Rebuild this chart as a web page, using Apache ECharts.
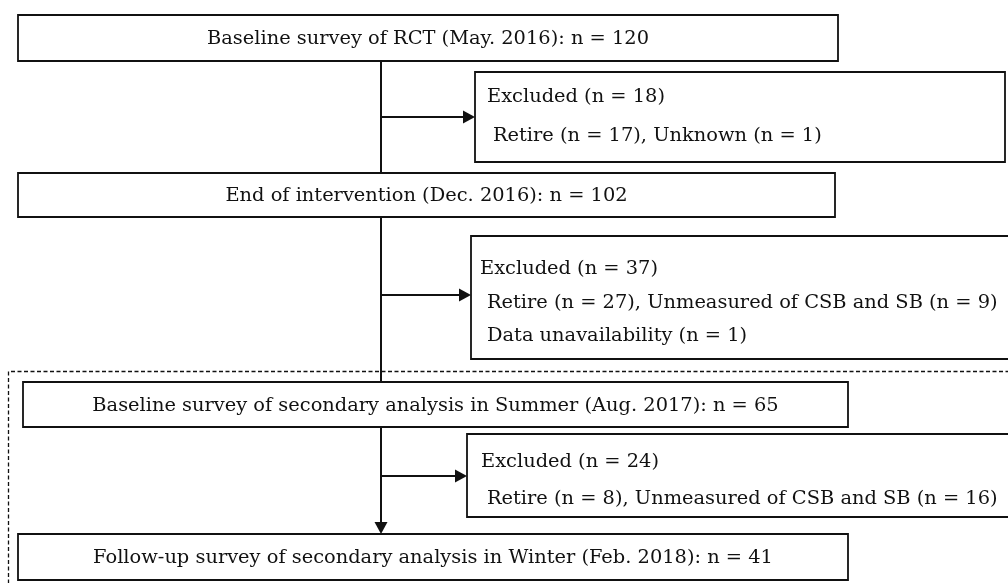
<!DOCTYPE html>
<html><head><meta charset="utf-8">
<script src="https://cdn.jsdelivr.net/npm/echarts@6/dist/echarts.min.js"></script>
<style>html,body{margin:0;padding:0;background:#fff}#c{width:1008px;height:583px}</style>
</head><body><div id="c"></div>
<script>
// ---- Data (content) ----
const stageLabels = [
  'Baseline survey of RCT (May. 2016)',
  'End of intervention (Dec. 2016)',
  'Baseline survey of secondary analysis in Summer (Aug. 2017)',
  'Follow-up survey of secondary analysis in Winter (Feb. 2018)'
];
const stageN = [120, 102, 65, 41];
const excludedN = [18, 37, 24];
const exclusionReasonLines = [
  [[['Retire', 17], ['Unknown', 1]]],
  [[['Retire', 27], ['Unmeasured of CSB and SB', 9]], [['Data unavailability', 1]]],
  [[['Retire', 8], ['Unmeasured of CSB and SB', 16]]]
];

// ---- Layout (drawing space in axis units) ----
const stageBoxes = [[18, 15, 838, 61], [18, 173, 835, 217], [23, 382, 848, 427], [18, 534, 848, 580]];
const exclBoxes = [[475, 72, 1005, 162], [471, 236, 1014, 359], [467, 434, 1014, 517]];
const exclLineY = [[97, 136], [269, 303, 336], [462, 499]];
const exclLineX = [[487, 493], [480, 487, 487], [481, 487]];
const flowX = 381;
const branchY = [117, 295, 476];
const connectors = [
  // x0, y0, x1, y1, arrow(1/0)
  [flowX, 61, flowX, 173, 0],
  [flowX, branchY[0], 475, branchY[0], 1],
  [flowX, 217, flowX, 382, 0],
  [flowX, branchY[1], 471, branchY[1], 1],
  [flowX, 427, flowX, 534, 1],
  [flowX, branchY[2], 467, branchY[2], 1]
];
const dashedFrame = [[8.5, 590], [8.5, 371.5], [1012, 371.5]];

const FONT = '19.4px "DejaVu Serif", serif';
const INK = '#111111';

const fmt = (name, n) => name + ' (n = ' + n + ')';

function rectFrom(api, b) {
  const p0 = api.coord([b[0], b[1]]);
  const p1 = api.coord([b[2], b[3]]);
  return { x: p0[0], y: p0[1], width: p1[0] - p0[0], height: p1[1] - p0[1] };
}

const chart = echarts.init(document.getElementById('c'), null, { renderer: 'canvas' });
chart.setOption({
  animation: false,
  backgroundColor: '#fff',
  grid: { left: 0, right: 0, top: 0, bottom: 0 },
  xAxis: { type: 'value', min: 0, max: 1008, show: false },
  yAxis: { type: 'value', min: 0, max: 583, inverse: true, show: false },
  series: [
    {
      type: 'custom', name: 'frame', clip: false,
      data: [0],
      renderItem: function (params, api) {
        return {
          type: 'polyline',
          shape: { points: dashedFrame.map(p => api.coord(p)) },
          style: { stroke: INK, lineWidth: 1.3, lineDash: [4, 2.5], fill: null }
        };
      }
    },
    {
      type: 'custom', name: 'connectors', clip: false,
      data: connectors,
      renderItem: function (params, api) {
        const a = api.coord([api.value(0), api.value(1)]);
        const b = api.coord([api.value(2), api.value(3)]);
        const arrow = api.value(4);
        const children = [];
        const L = 12, W = 6.5;
        let end = b.slice();
        let head = null;
        if (arrow) {
          const dx = b[0] - a[0], dy = b[1] - a[1];
          const len = Math.sqrt(dx * dx + dy * dy);
          const ux = dx / len, uy = dy / len;
          const bx = b[0] - ux * L, by = b[1] - uy * L;
          end = [bx, by];
          head = [[b[0], b[1]], [bx - uy * W, by + ux * W], [bx + uy * W, by - ux * W]];
        }
        children.push({ type: 'line', shape: { x1: a[0], y1: a[1], x2: end[0], y2: end[1] }, style: { stroke: INK, lineWidth: 2 } });
        if (head) children.push({ type: 'polygon', shape: { points: head }, style: { fill: INK } });
        return { type: 'group', children: children };
      }
    },
    {
      type: 'custom', name: 'stages', clip: false,
      data: stageBoxes.map((b, i) => b.concat([i])),
      renderItem: function (params, api) {
        const i = params.dataIndex;
        const r = rectFrom(api, stageBoxes[i]);
        return {
          type: 'group',
          children: [
            { type: 'rect', shape: r, style: { fill: '#fff', stroke: INK, lineWidth: 1.8 } },
            { type: 'text', style: {
                x: r.x + r.width / 2, y: r.y + r.height / 2 + 1,
                text: stageLabels[i] + ': n = ' + stageN[i],
                font: FONT, fill: INK, align: 'center', verticalAlign: 'middle' } }
          ]
        };
      }
    },
    {
      type: 'custom', name: 'excluded', clip: false,
      data: exclBoxes.map((b, i) => b.concat([i])),
      renderItem: function (params, api) {
        const i = params.dataIndex;
        const r = rectFrom(api, exclBoxes[i]);
        const lines = ['Excluded (n = ' + excludedN[i] + ')'].concat(
          exclusionReasonLines[i].map(line => line.map(it => fmt(it[0], it[1])).join(', ')));
        const children = [{ type: 'rect', shape: r, style: { fill: '#fff', stroke: INK, lineWidth: 1.8 } }];
        lines.forEach((t, k) => {
          const p = api.coord([exclLineX[i][k], exclLineY[i][k]]);
          children.push({ type: 'text', style: { x: p[0], y: p[1], text: t, font: FONT, fill: INK, align: 'left', verticalAlign: 'middle' } });
        });
        return { type: 'group', children: children };
      }
    }
  ]
});
</script>
</body></html>
